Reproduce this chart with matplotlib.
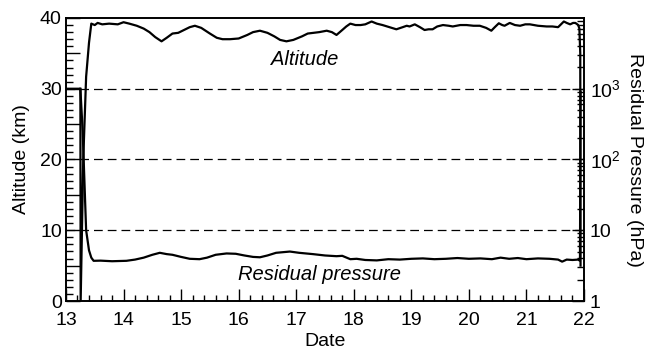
import matplotlib
matplotlib.use("Agg")
import matplotlib.pyplot as plt
from matplotlib.ticker import MultipleLocator, FixedLocator, FuncFormatter, LogLocator, NullFormatter
import numpy as np

plt.rcParams['font.family'] = ['Liberation Sans', 'DejaVu Sans']
plt.rcParams['mathtext.fontset'] = 'custom'
plt.rcParams['mathtext.rm'] = 'Liberation Sans'

# altitude (km) vs date (day of month)
alt_date = [13.25, 13.255, 13.30, 13.35, 13.40, 13.44, 13.50, 13.55, 13.63, 13.75, 13.90,
            14.00, 14.10, 14.23, 14.35, 14.45, 14.55, 14.66, 14.75, 14.85, 14.95,
            15.05, 15.15, 15.24, 15.35, 15.50, 15.62, 15.72, 15.85, 16.00, 16.15,
            16.25, 16.37, 16.50, 16.62, 16.72, 16.83, 16.95, 17.10, 17.20, 17.30,
            17.40, 17.53, 17.62, 17.70, 17.80, 17.87, 17.94, 18.03, 18.12, 18.20,
            18.31, 18.40, 18.50, 18.62, 18.74, 18.85, 18.92, 18.97, 19.06, 19.15,
            19.23, 19.30, 19.37, 19.45, 19.55, 19.65, 19.72, 19.85, 19.96, 20.08,
            20.19, 20.30, 20.39, 20.45, 20.52, 20.58, 20.62, 20.71, 20.80, 20.89,
            20.98, 21.06, 21.20, 21.35, 21.45, 21.55, 21.60, 21.65, 21.70, 21.76,
            21.81, 21.85, 21.90, 21.92, 21.935, 21.94]
alt_km = [30, 0, 20, 31.7, 36.5, 39.2, 39.0, 39.3, 39.1, 39.2, 39.1,
          39.4, 39.2, 38.9, 38.5, 38.0, 37.3, 36.7, 37.2, 37.8, 37.9,
          38.3, 38.7, 38.9, 38.6, 37.8, 37.2, 37.0, 37.0, 37.1, 37.6,
          38.0, 38.2, 37.9, 37.4, 36.9, 36.7, 36.9, 37.4, 37.8, 37.9,
          38.0, 38.2, 38.0, 37.6, 38.3, 38.8, 39.2, 39.0, 39.0, 39.1,
          39.5, 39.2, 39.0, 38.7, 38.4, 38.7, 38.9, 38.8, 39.1, 38.7,
          38.3, 38.4, 38.4, 38.8, 39.0, 38.9, 38.8, 39.0, 39.0, 38.9,
          38.9, 38.6, 38.2, 38.7, 39.25, 39.0, 38.9, 39.3, 39.0, 38.9,
          39.1, 39.1, 38.9, 38.8, 38.8, 38.7, 39.1, 39.5, 39.3, 39.1,
          39.3, 39.3, 39.0, 38.5, 35.0, 5.0]

# residual pressure (hPa) vs date
pres_date = [13.00, 13.25, 13.29, 13.32, 13.35, 13.40, 13.44, 13.48, 13.60, 13.80,
             14.05, 14.20, 14.35, 14.50, 14.63, 14.75, 14.85, 15.00, 15.15, 15.32,
             15.45, 15.60, 15.79, 15.95, 16.10, 16.25, 16.37, 16.50, 16.65, 16.89,
             17.05, 17.29, 17.50, 17.70, 17.80, 17.94, 18.05, 18.20, 18.40, 18.60,
             18.80, 19.00, 19.20, 19.40, 19.60, 19.80, 20.00, 20.20, 20.40, 20.55,
             20.70, 20.85, 21.00, 21.20, 21.40, 21.55, 21.62, 21.70, 21.80, 21.90,
             21.93, 21.94]
pres_hpa = [1000, 1000, 250, 50, 10, 5.2, 4.1, 3.7, 3.72, 3.65,
            3.7, 3.85, 4.1, 4.5, 4.8, 4.6, 4.5, 4.2, 3.95, 3.9,
            4.1, 4.5, 4.7, 4.65, 4.4, 4.2, 4.15, 4.4, 4.8, 5.0,
            4.8, 4.6, 4.4, 4.3, 4.35, 3.9, 3.95, 3.8, 3.75, 3.9,
            3.85, 3.95, 4.0, 3.9, 3.95, 4.05, 3.95, 4.0, 3.9, 4.1,
            3.95, 4.05, 3.9, 4.0, 3.95, 3.85, 3.6, 3.85, 3.8, 3.85,
            3.7, 900]

fig = plt.figure(figsize=(6.52, 3.49), dpi=100)
ax = fig.add_axes([0.1012, 0.1375, 0.7945, 0.811])
ax2 = ax.twinx()

ax.plot(alt_date, alt_km, color='black', lw=1.6)
ax2.plot(pres_date, pres_hpa, color='black', lw=1.6)

for g in [10, 20, 30]:
    ax.axhline(g, color='black', lw=0.9, dashes=(7, 4), zorder=0)

ax.set_xlim(13, 22)
ax.set_ylim(0, 40)
ax2.set_yscale('log')
ax2.set_ylim(1, 1e4)

ax.xaxis.set_major_locator(MultipleLocator(1))
ax.xaxis.set_minor_locator(MultipleLocator(0.2))
ax.yaxis.set_major_locator(MultipleLocator(5))
ax.yaxis.set_minor_locator(MultipleLocator(1))
ax.yaxis.set_major_formatter(FuncFormatter(lambda v, p: '%d' % v if v % 10 == 0 else ''))

ax2.yaxis.set_major_locator(FixedLocator([1, 10, 100, 1000]))
ax2.yaxis.set_major_formatter(FuncFormatter(
    lambda v, p: {1: '1', 10: '10', 100: r'$10^2$', 1000: r'$10^3$'}.get(int(round(v)), '')))
ax2.yaxis.set_minor_locator(LogLocator(base=10, subs=np.arange(2, 10)))
ax2.yaxis.set_minor_formatter(NullFormatter())

ax.tick_params(axis='x', which='major', direction='in', length=9, width=1, labelsize=14, pad=8, top=False)
ax.tick_params(axis='x', which='minor', direction='in', length=4, width=1, top=False)
ax.tick_params(axis='y', which='major', direction='in', length=10, width=1, labelsize=14, pad=3, right=False)
ax.tick_params(axis='y', which='minor', direction='in', length=5, width=1, right=False)
ax2.tick_params(axis='y', which='major', direction='in', length=9, width=1, labelsize=14, pad=4)
ax2.tick_params(axis='y', which='minor', direction='in', length=5, width=1)

for a in (ax, ax2):
    for s in a.spines.values():
        s.set_linewidth(1.2)

ax.set_xlabel('Date', fontsize=14, labelpad=3)
ax.set_ylabel('Altitude (km)', fontsize=14, labelpad=7)
ax2.set_ylabel('Residual Pressure (hPa)', fontsize=14, rotation=-90, labelpad=16)

ax.text(17.15, 34.1, 'Altitude', fontsize=14.5, style='italic', ha='center', va='center')
ax.text(17.41, 3.7, 'Residual pressure', fontsize=14.5, style='italic', ha='center', va='center')

fig.savefig('out.png', dpi=100)
